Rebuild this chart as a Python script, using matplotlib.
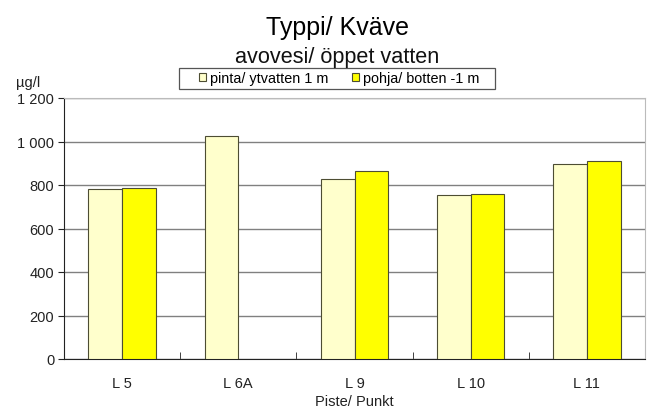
import numpy as np
import matplotlib
matplotlib.use("Agg")
import matplotlib.pyplot as plt
from matplotlib.patches import Rectangle
from matplotlib.ticker import FuncFormatter

plt.rcParams["font.family"] = ["Liberation Sans", "DejaVu Sans"]

stations = ["L 5", "L 6A", "L 9", "L 10", "L 11"]
pinta = [781, 1027, 828, 754, 897]
pohja = [785, np.nan, 864, 757, 910]
series_labels = ["pinta/ ytvatten 1 m", "pohja/ botten -1 m"]

fig = plt.figure(figsize=(6.71, 4.10), dpi=100)
ax = fig.add_axes([64 / 671, 1 - 360 / 410, (645 - 64) / 671, (360 - 99) / 410])

x = np.arange(len(stations))
w = 0.29
ec = "#4d4d33"
ax.bar(x - w / 2, pinta, w, color="#ffffcc", edgecolor=ec, linewidth=0.8,
       label=series_labels[0], zorder=3)
ax.bar(x + w / 2, pohja, w, color="#ffff00", edgecolor=ec, linewidth=0.8,
       label=series_labels[1], zorder=3)

ax.set_xlim(-0.5, len(stations) - 0.5)
ax.set_ylim(0, 1200)
ax.set_yticks(range(0, 1201, 200))
ax.yaxis.set_major_formatter(FuncFormatter(lambda v, p: f"{int(v):,}".replace(",", " ")))
ax.grid(axis="y", color="#808080", lw=1, zorder=0)
ax.set_xticks(x)
ax.set_xticklabels(stations)
ax.set_xticks(np.arange(-0.5, len(stations)), minor=True)
ax.tick_params(axis="x", which="major", length=0, pad=12, labelsize=10.5, colors="#222222")
ax.tick_params(axis="x", which="minor", length=5, direction="in", color="#222222")
ax.tick_params(axis="y", length=4, labelsize=10.5, colors="#222222", pad=3)
for s in ("top", "right"):
    ax.spines[s].set_color("#bbbbbb")
for s in ("left", "bottom"):
    ax.spines[s].set_color("#222222")
ax.set_xlabel("Piste/ Punkt", fontsize=10.5, labelpad=3, color="#222222")

fig.text(338 / 671, 1 - 35 / 410, "Typpi/ Kväve", ha="center", va="baseline", fontsize=18)
fig.text(337 / 671, 1 - 63 / 410, "avovesi/ öppet vatten", ha="center", va="baseline",
         fontsize=15.6, color="#111111")
fig.text(16 / 671, 1 - 87 / 410, "µg/l", ha="left", va="baseline", fontsize=10.5, color="#222222")

# legend entries without frame, frame box drawn separately
leg = ax.legend(loc="center", bbox_to_anchor=(339 / 671, 1 - 79.5 / 410),
                bbox_transform=fig.transFigure, ncol=2, fontsize=10.4, frameon=False,
                handlelength=0.5, handleheight=0.5, handletextpad=0.3,
                columnspacing=1.6, borderpad=0.2)
fig.patches.append(Rectangle((179 / 671, 1 - 90 / 410), (495 - 179) / 671, 21 / 410,
                             transform=fig.transFigure, fill=False,
                             edgecolor="#555555", linewidth=0.9))

fig.savefig("out.png", dpi=100)
